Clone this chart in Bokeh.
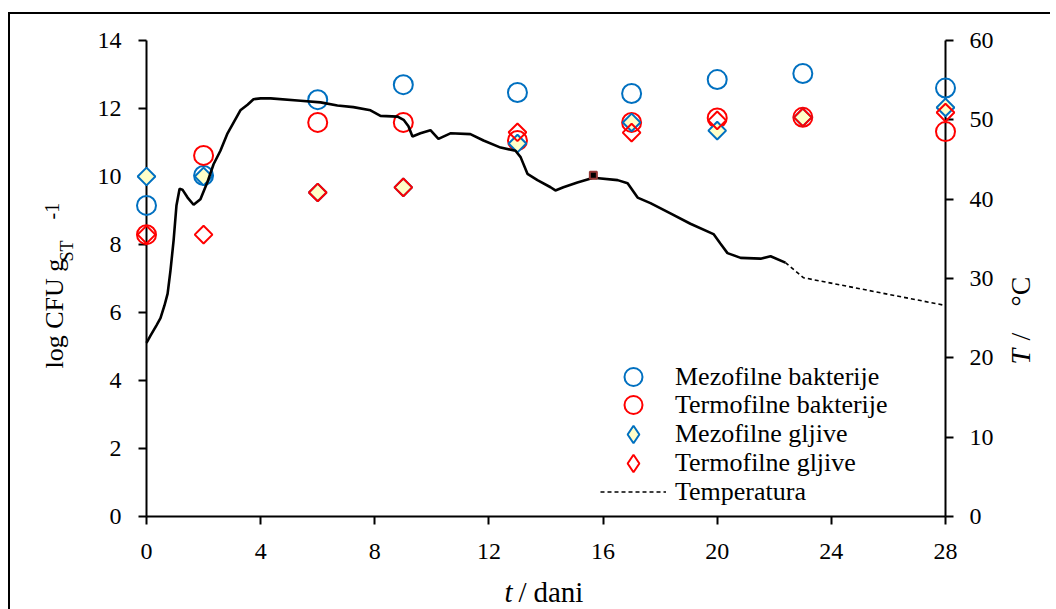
import math
from bokeh.plotting import figure
from bokeh.models import (Range1d, LinearAxis, FixedTicker, Legend,
                          LegendItem, ColumnDataSource)
from bokeh.core.properties import value
from bokeh.embed import file_html
from bokeh.resources import INLINE

# ---------------- data ----------------
days = [0, 2, 6, 9, 13, 17, 20, 23, 28]
mezofilne_bakterije = [9.15, 10.03, 12.26, 12.70, 12.47, 12.44, 12.85, 13.03, 12.60]
termofilne_bakterije = [8.29, 10.62, 11.59, 11.59, 11.06, 11.59, 11.72, 11.74, 11.32]
mezofilne_gljive = [10.00, 10.00, 9.53, 9.68, 10.97, 11.59, 11.35, 11.74, 12.03]
termofilne_gljive = [8.29, 8.29, 9.53, 9.68, 11.30, 11.29, 11.65, 11.74, 11.88]

temp_day = [0.0, 0.14, 0.35, 0.49, 0.63, 0.74, 0.84, 0.95, 1.05, 1.16, 1.26, 1.44,
            1.65, 1.89, 2.14, 2.35, 2.59, 2.84, 3.29, 3.54, 3.75, 4.0, 4.35, 5.40,
            6.10, 6.69, 7.25, 7.85, 8.20, 8.80, 9.01, 9.18, 9.32, 9.60, 9.95, 10.23,
            10.65, 11.35, 11.81, 12.41, 12.93, 13.11, 13.35, 13.70, 14.16, 14.33,
            14.61, 15.10, 15.66, 16.51, 16.86, 17.21, 17.66, 18.36, 19.06, 19.87,
            20.11, 20.36, 20.82, 21.52, 21.87, 22.39]
temp_c = [21.9, 22.8, 24.1, 25.0, 26.6, 28.1, 31.0, 34.8, 39.2, 41.3, 41.2, 40.2,
          39.3, 40.0, 42.2, 44.4, 46.1, 48.3, 51.2, 51.9, 52.6, 52.7, 52.7, 52.4,
          52.2, 51.8, 51.6, 51.2, 50.5, 50.4, 50.0, 49.2, 47.9, 48.3, 48.7, 47.6,
          48.3, 48.2, 47.4, 46.5, 46.1, 45.3, 43.2, 42.4, 41.5, 41.1,
          41.5, 42.1, 42.7, 42.4, 42.0, 40.2, 39.5, 38.2, 36.9, 35.6,
          34.4, 33.2, 32.6, 32.5, 32.8, 32.0]
temp_tail_day = [22.39, 23.02, 28.0]
temp_tail_c = [32.0, 30.1, 26.6]
marked_day = [15.66]
marked_c = [43.0]

x_ticks = [0, 4, 8, 12, 16, 20, 24, 28]
y_ticks = [0, 2, 4, 6, 8, 10, 12, 14]
t_ticks = [0, 10, 20, 30, 40, 50, 60]

legend_labels = ["Mezofilne bakterije", "Termofilne bakterije",
                 "Mezofilne gljive", "Termofilne gljive", "Temperatura"]

FONT = "Liberation Serif"
BLUE = "#0070C0"
RED = "#FF0000"
YELLOW = "#FFFFC8"

p = figure(frame_width=799, frame_height=476,
           min_border_left=136, min_border_right=105,
           min_border_top=26, min_border_bottom=93,
           x_range=Range1d(0, 28), y_range=Range1d(0, 14),
           output_backend="svg", toolbar_location=None,
           x_axis_location=None, y_axis_location=None)
p.styles = {"border-top": "2px solid #000", "border-left": "2px solid #000",
            "margin-top": "12px", "margin-left": "8px"}
p.outline_line_color = None
p.xgrid.visible = False
p.ygrid.visible = False
p.background_fill_color = "white"
p.border_fill_color = "white"
p.extra_y_ranges = {"T": Range1d(0, 60)}


def style_axis(ax, standoff):
    ax.axis_line_color = "black"
    ax.axis_line_width = 2
    ax.major_tick_line_color = "black"
    ax.major_tick_line_width = 2
    ax.major_tick_out = 8
    ax.major_tick_in = 0
    ax.minor_tick_line_color = None
    ax.major_label_text_font = FONT
    ax.major_label_text_font_size = "24px"
    ax.major_label_text_color = "black"
    ax.major_label_standoff = standoff


xaxis = LinearAxis(ticker=FixedTicker(ticks=x_ticks))
style_axis(xaxis, 19)
p.add_layout(xaxis, "below")
yaxis = LinearAxis(ticker=FixedTicker(ticks=y_ticks))
style_axis(yaxis, 17)
p.add_layout(yaxis, "left")
taxis = LinearAxis(y_range_name="T", ticker=FixedTicker(ticks=t_ticks))
style_axis(taxis, 16)
p.add_layout(taxis, "right")

# ---------------- markers ----------------
r_mb = p.scatter(days, mezofilne_bakterije, marker="circle", size=19,
                 fill_color=None, line_color=BLUE, line_width=2, level="overlay")
r_tb = p.scatter(days, termofilne_bakterije, marker="circle", size=19,
                 fill_color=None, line_color=RED, line_width=2, level="overlay")
p.scatter(days, mezofilne_gljive, marker="square", size=12.5, angle=math.pi / 4,
          fill_color=YELLOW, line_color=BLUE, line_width=2, level="overlay")
p.scatter(days, termofilne_gljive, marker="square", size=12.5, angle=math.pi / 4,
          fill_color=None, line_color=RED, line_width=2, level="overlay")

# legend-only glyphs (no visible data point)
nan_src = ColumnDataSource(data=dict(x=[float("nan")], y=[float("nan")]))
r_mg = p.scatter("x", "y", source=nan_src, marker="diamond", size=16,
                 fill_color=YELLOW, line_color=BLUE, line_width=2)
r_tg = p.scatter("x", "y", source=nan_src, marker="diamond", size=16,
                 fill_color=None, line_color=RED, line_width=2)

# ---------------- temperature ----------------
p.line(temp_day, temp_c, y_range_name="T", line_color="black", line_width=2.6,
       level="overlay")
r_t = p.line(temp_tail_day, temp_tail_c, y_range_name="T", line_color="black",
             line_width=1.6, line_dash="4 3", level="overlay")
p.scatter(marked_day, marked_c, y_range_name="T", marker="square", size=7,
          fill_color="black", line_color="#953735", line_width=2, level="overlay")

# one Legend per row so that the legend markers keep their full size
legend_renderers = [r_mb, r_tb, r_mg, r_tg, r_t]
row_loc = [117, 89, 60, 31, 2]
row_height = [45, 45, 44, 44, 45]
for lbl, rend, ly, gh in zip(legend_labels, legend_renderers, row_loc, row_height):
    off = (45 - gh) / 2
    lg = Legend(items=[LegendItem(label=lbl, renderers=[rend])],
                location=(454, ly + off))
    lg.padding = 0
    lg.margin = 0
    lg.glyph_width = 66
    lg.glyph_height = gh
    lg.label_height = gh
    lg.spacing = 0
    lg.label_standoff = 9
    lg.label_text_font = FONT
    lg.label_text_font_size = "26px"
    lg.label_text_color = "black"
    lg.border_line_color = None
    lg.background_fill_alpha = 0
    p.add_layout(lg)

# ---------------- axis titles (text glyphs drawn outside the frame) ----------------
PXD = 799 / 28
PXV = 476 / 14


def dx(px):
    return (px - 146) / PXD


def dy(py):
    return (516 - py) / PXV


def title_text(text, px, py, size, angle=0.0, style="normal"):
    p.text(x=[dx(px)], y=[dy(py)], text=[text], angle=angle,
           text_font=value(FONT), text_font_size=value(size),
           text_font_style=style, text_color="black",
           text_align="left", text_baseline="alphabetic", level="overlay")


title_text("log CFU g", 54, 368, "26px", math.pi / 2)
title_text("ST", 66, 261, "18px", math.pi / 2)
title_text("-1", 51, 219, "20px", math.pi / 2)

title_text("T", 1020, 364, "28px", math.pi / 2, "italic")
title_text("/", 1020, 340, "28px", math.pi / 2)
title_text("°C", 1020, 306, "28px", math.pi / 2)

title_text("t", 504, 591, "29px", 0.0, "italic")
title_text("/", 518, 591, "29px")
title_text("dani", 533, 591, "29px")

open("out.html", "w").write(file_html(p, INLINE))
